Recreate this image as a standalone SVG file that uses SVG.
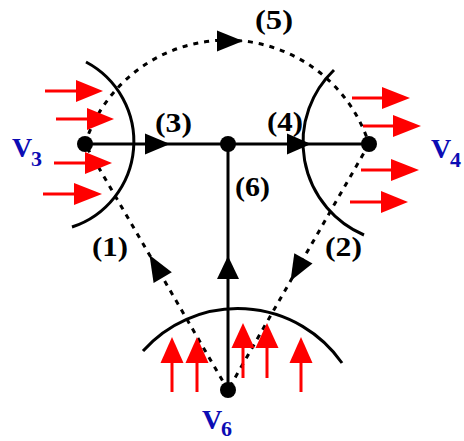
<svg xmlns="http://www.w3.org/2000/svg" width="464" height="441" viewBox="0 0 464 441">
<style>
.arc{fill:none;stroke:#000;stroke-width:3}
.solid{fill:none;stroke:#000;stroke-width:3}
.dash{fill:none;stroke:#000;stroke-width:3;stroke-dasharray:5 6}
.head{fill:#000}
.red{stroke:#ff0000;stroke-width:3;fill:none}
.redhead{fill:#ff0000}
.dot{fill:#000}
.lbl{font-family:"Liberation Serif","Times New Roman",serif;font-weight:bold;font-size:27px;fill:#000}
.vn{font-family:"Liberation Serif","Times New Roman",serif;font-weight:bold;font-size:28px;fill:#0c0cb4}
.vs{font-family:"Liberation Serif","Times New Roman",serif;font-weight:bold;font-size:22px;fill:#0c0cb4}
</style>
<rect width="464" height="441" fill="#fff"/>

<g id="connectors">
  <path class="dash" d="M85,144 A149,149 0 0 1 369,144"/>
  <polygon class="head" points="243,41 217,30.5 217,51.5"/>
  <line class="dash" x1="228" y1="390" x2="85" y2="144"/>
  <polygon class="head" points="149.5,255 171.8,272.3 153.6,282.9"/>
  <line class="dash" x1="369" y1="144" x2="228" y2="390"/>
  <polygon class="head" points="290.5,281 312.5,263.6 294.3,253.2"/>
  <line class="solid" x1="85" y1="144" x2="228" y2="144"/>
  <polygon class="head" points="170,144 145,133.5 145,154.5"/>
  <line class="solid" x1="228" y1="144" x2="369" y2="144"/>
  <polygon class="head" points="311,144 287,133.5 287,154.5"/>
  <line class="solid" x1="228" y1="390" x2="228" y2="144"/>
  <polygon class="head" points="228,256 217,279 239,279"/>
</g>

<g id="boundaries">
  <path class="arc" d="M86,62 A90,90 0 0 1 72,227"/>
  <path class="arc" d="M334,70 A100.5,100.5 0 0 0 364,235"/>
  <path class="arc" d="M143,351 A127,127 0 0 1 342,363"/>
</g>

<g id="flows">
  <line class="red" x1="45" y1="91" x2="78" y2="91"/><polygon class="redhead" points="103,91 76,80 76,102"/>
  <line class="red" x1="56" y1="119" x2="89" y2="119"/><polygon class="redhead" points="114,119 87,108 87,130"/>
  <line class="red" x1="54" y1="163" x2="87" y2="163"/><polygon class="redhead" points="112,163 85,152 85,174"/>
  <line class="red" x1="43" y1="194" x2="76" y2="194"/><polygon class="redhead" points="102,194 74,183 74,205"/>

  <line class="red" x1="352" y1="98" x2="384" y2="98"/><polygon class="redhead" points="410,98 382,87 382,109"/>
  <line class="red" x1="363" y1="126" x2="395" y2="126"/><polygon class="redhead" points="421,126 393,115 393,137"/>
  <line class="red" x1="361" y1="170" x2="393" y2="170"/><polygon class="redhead" points="419,170 391,159 391,181"/>
  <line class="red" x1="350" y1="202" x2="383" y2="202"/><polygon class="redhead" points="408,202 381,191 381,213"/>

  <line class="red" x1="172" y1="392" x2="172" y2="361"/><polygon class="redhead" points="172,337 160.5,363 183.5,363"/>
  <line class="red" x1="197" y1="392" x2="197" y2="361"/><polygon class="redhead" points="197,337 185.5,363 208.5,363"/>
  <line class="red" x1="243" y1="378" x2="243" y2="346"/><polygon class="redhead" points="243,323 231.5,348 254.5,348"/>
  <line class="red" x1="267" y1="378" x2="267" y2="346"/><polygon class="redhead" points="267,323 255.5,348 278.5,348"/>
  <line class="red" x1="301" y1="392" x2="301" y2="361"/><polygon class="redhead" points="301,337 289.5,363 312.5,363"/>
</g>

<g id="node-V3">
  <circle class="dot" cx="85" cy="144" r="8"/>
  <text class="vn" x="12" y="157">V</text><text class="vs" x="31" y="166">3</text>
</g>
<g id="node-junction">
  <circle class="dot" cx="228" cy="144" r="8"/>
</g>
<g id="node-V4">
  <circle class="dot" cx="369" cy="144" r="8"/>
  <text class="vn" x="431" y="158">V</text><text class="vs" x="450" y="167">4</text>
</g>
<g id="node-V6">
  <circle class="dot" cx="228" cy="390" r="8"/>
  <text class="vn" x="202" y="429">V</text><text class="vs" x="221" y="436">6</text>
</g>

<g id="labels">
  <text class="lbl" x="155" y="132" textLength="37" lengthAdjust="spacingAndGlyphs">(3)</text>
  <text class="lbl" x="267" y="131" textLength="36" lengthAdjust="spacingAndGlyphs">(4)</text>
  <text class="lbl" x="255" y="29" textLength="38" lengthAdjust="spacingAndGlyphs">(5)</text>
  <text class="lbl" x="235" y="196" textLength="35" lengthAdjust="spacingAndGlyphs">(6)</text>
  <text class="lbl" x="92" y="256" textLength="36" lengthAdjust="spacingAndGlyphs">(1)</text>
  <text class="lbl" x="325" y="256" textLength="37" lengthAdjust="spacingAndGlyphs">(2)</text>
</g>
</svg>
